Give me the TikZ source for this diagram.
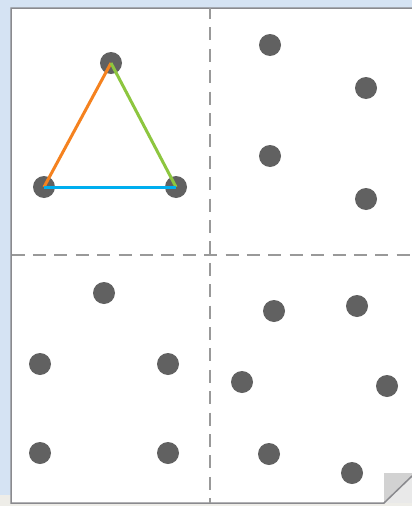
\documentclass[tikz,border=0pt]{standalone}
\begin{document}
\begin{tikzpicture}[x=1pt,y=-1pt,
  dot/.style={circle,fill=dotgray,inner sep=0pt,minimum size=22pt},
  divider/.style={draw=divgray,line width=2.6pt,dash pattern=on 13pt off 8.4pt},
  edge/.style={line width=3pt}]
\definecolor{bgblue}{HTML}{D5E3F3}
\definecolor{strip}{HTML}{EEEDE8}
\definecolor{dotgray}{HTML}{616161}
\definecolor{divgray}{HTML}{999999}
\definecolor{border}{HTML}{8A8A8E}
\definecolor{orangeE}{HTML}{F5821F}
\definecolor{greenE}{HTML}{8DC63F}
\definecolor{blueE}{HTML}{00AEEF}
\definecolor{foldA}{HTML}{D2D2D2}
\definecolor{foldB}{HTML}{E9E9E9}
\useasboundingbox (0,0) rectangle (412,506);
\fill[bgblue] (0,0) rectangle (412,506);
\fill[strip] (0,495) rectangle (412,506);
% page
\fill[white] (11,8) -- (412,8) -- (412,473) -- (384,503) -- (11,503) -- cycle;
% folded corner
\fill[foldB] (384,473) rectangle (412,503);
\fill[foldA] (384,473) -- (412,473) -- (412,477) -- (384,503) -- cycle;
\draw[border,line width=1.5pt] (412,8) -- (11,8) -- (11,503) -- (384,503) -- (412,476);
% dividers
\coordinate (vt) at (210,8);
\coordinate (vb) at (210,503);
\coordinate (hl) at (11.5,255);
\coordinate (hr) at (412,255);
\draw[divider,dash phase=2pt] (vt) -- (vb);
\draw[divider] (hl) -- (hr);
% top-left
\node[dot] (a) at (111,63) {};
\node[dot] (b) at (44,187) {};
\node[dot] (c) at (176,187) {};
\draw[edge,orangeE] (a.center) -- (b.center);
\draw[edge,greenE] (a.center) -- (c.center);
\draw[edge,blueE] (b.center) -- (c.center);
% top-right
\node[dot] (tr1) at (270,45) {};
\node[dot] (tr2) at (366,88) {};
\node[dot] (tr3) at (270,156) {};
\node[dot] (tr4) at (366,199) {};
% bottom-left
\node[dot] (bl1) at (104,293) {};
\node[dot] (bl2) at (40,364) {};
\node[dot] (bl3) at (168,364) {};
\node[dot] (bl4) at (40,453) {};
\node[dot] (bl5) at (168,453) {};
% bottom-right
\node[dot] (br1) at (274,311) {};
\node[dot] (br2) at (357,306) {};
\node[dot] (br3) at (242,382) {};
\node[dot] (br4) at (387,386) {};
\node[dot] (br5) at (269,454) {};
\node[dot] (br6) at (352,473) {};
\end{tikzpicture}
\end{document}
